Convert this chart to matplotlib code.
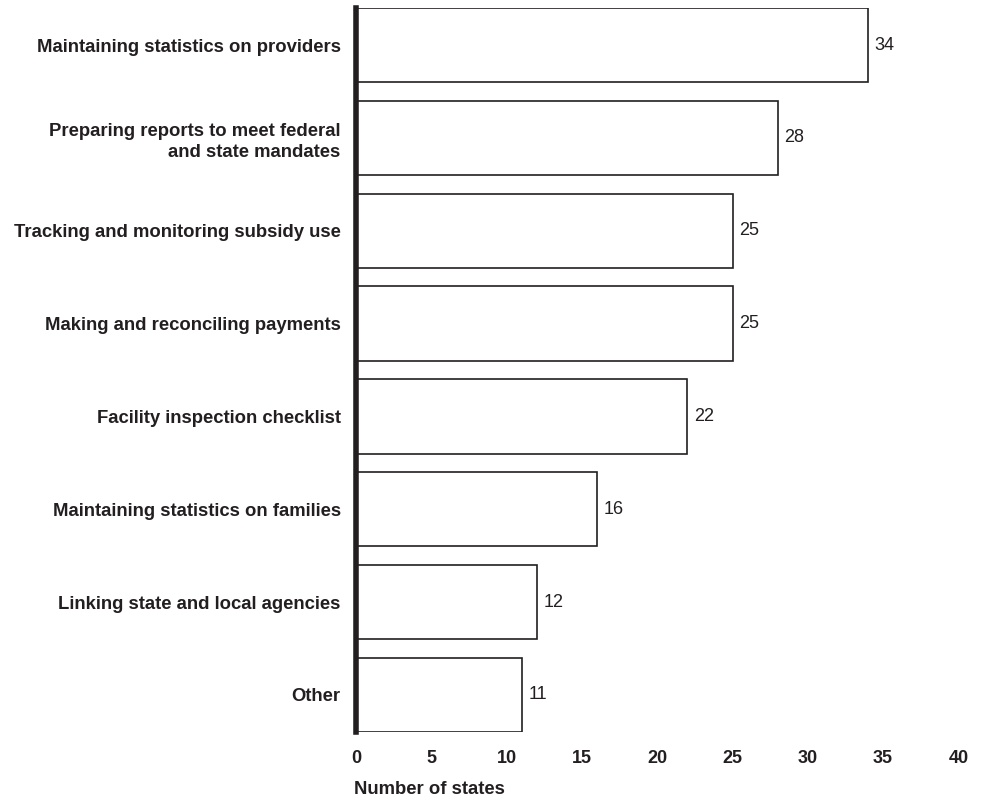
import matplotlib.pyplot as plt

categories = [
    "Maintaining statistics on providers",
    "Preparing reports to meet federal\nand state mandates",
    "Tracking and monitoring subsidy use",
    "Making and reconciling payments",
    "Facility inspection checklist",
    "Maintaining statistics on families",
    "Linking state and local agencies",
    "Other",
]
values = [34, 28, 25, 25, 22, 16, 12, 11]
xticks = [0, 5, 10, 15, 20, 25, 30, 35, 40]

ink = '#231f20'
plt.rcParams['font.family'] = ['Liberation Sans', 'DejaVu Sans']
plt.rcParams['text.color'] = ink

fig = plt.figure(figsize=(9.82, 8.02), dpi=100)
ax = fig.add_axes([0.3625, 0.0873, 0.6135, 0.9027])

pos = list(range(len(categories)))
ax.barh(pos, values, height=0.8, color='white', edgecolor=ink, linewidth=1.2)
ax.set_ylim(len(categories) - 0.6, -0.4)
ax.set_xlim(0, 40)

# value labels next to the bars
for p, v in zip(pos, values):
    ax.text(v + 0.45, p, str(v), va='center', ha='left', fontsize=13, color=ink)

ax.set_yticks(pos)
ax.set_yticklabels(categories, fontsize=13.3, fontweight='bold', ha='right',
                   linespacing=1.3, color=ink)
ax.set_xticks(xticks)
ax.set_xticklabels([str(t) for t in xticks], fontsize=13, fontweight='bold', color=ink)
ax.tick_params(axis='both', length=0)
ax.tick_params(axis='y', pad=11)
ax.tick_params(axis='x', pad=13)

for s in ['top', 'right', 'bottom']:
    ax.spines[s].set_visible(False)
ax.spines['left'].set_linewidth(4)
ax.spines['left'].set_color(ink)

fig.text(354 / 982, 1 - 790 / 802, "Number of states", fontsize=13.3, fontweight='bold',
         ha='left', va='center', color=ink)

fig.savefig('out.png', dpi=100)
